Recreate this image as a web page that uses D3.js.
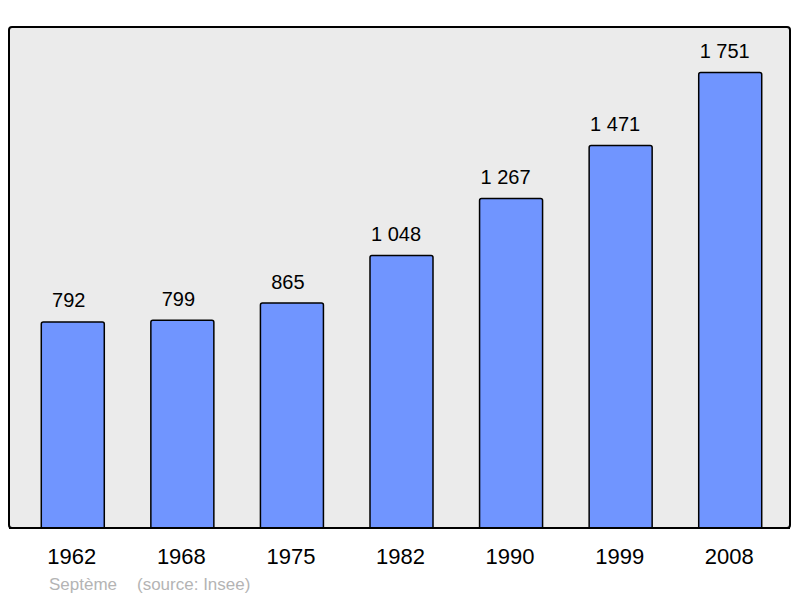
<!doctype html>
<html>
  <head>
    <meta charset="utf-8">
    <title>Septème population</title>
    <style>
      body { margin: 0; background: #fff; }
      text { font-family: "Liberation Sans", Arial, sans-serif; }
      .panel { fill: #ebebeb; stroke: #000; stroke-width: 2px; }
      .bar { fill: #7095ff; stroke: #000; stroke-width: 1.5px; }
    </style>
  </head>
  <body>
    <script src="https://d3js.org/d3.v7.min.js"></script>
    <script>
    var years = ["1962", "1968", "1975", "1982", "1990", "1999", "2008"];
    var population = [792, 799, 865, 1048, 1267, 1471, 1751];
    var footnote = ["Septème", "(source: Insee)"];

    var width = 800, height = 598;
    var panel = { left: 9, top: 27, right: 790, bottom: 528 };

    var fmt = d3.formatLocale({ decimal: ",", thousands: "\u00a0", grouping: [3], currency: ["", " €"] }).format(",d");

    var svg = d3.select("body").append("svg")
      .attr("width", width)
      .attr("height", height);

    svg.append("rect")
      .attr("class", "panel")
      .attr("x", panel.left)
      .attr("y", panel.top)
      .attr("width", panel.right - panel.left)
      .attr("height", panel.bottom - panel.top)
      .attr("rx", 3);

    var x = d3.scaleBand()
      .domain(years)
      .range([18, 785])
      .paddingInner(0.425)
      .paddingOuter(0.2125);

    var y = d3.scaleLinear()
      .domain([0, d3.max(population) * 1.1])
      .range([panel.bottom, panel.top]);

    var data = years.map(function(yr, i) { return { year: yr, value: population[i] }; });

    svg.selectAll(".bar")
      .data(data)
      .enter().append("rect")
      .attr("class", "bar")
      .attr("x", function(d) { return x(d.year); })
      .attr("y", function(d) { return y(d.value); })
      .attr("width", x.bandwidth())
      .attr("height", function(d) { return panel.bottom - y(d.value) + 4; })
      .attr("rx", 2);

    // redraw bottom edge of panel over the bars
    svg.append("line")
      .attr("x1", panel.left).attr("x2", panel.right)
      .attr("y1", panel.bottom).attr("y2", panel.bottom)
      .attr("stroke", "#000").attr("stroke-width", 2);

    svg.append("rect")
      .attr("x", 0).attr("y", panel.bottom + 1)
      .attr("width", width).attr("height", 10)
      .attr("fill", "#fff");

    // value labels sit a little left of the bar centre, as in the original
    svg.selectAll(".val")
      .data(data)
      .enter().append("text")
      .attr("class", "val")
      .attr("x", function(d) { return x(d.year) + x.bandwidth() / 2 - (d.value >= 1000 ? 5.5 : 4); })
      .attr("y", function(d) { return y(d.value) - 14.5; })
      .attr("text-anchor", "middle")
      .attr("font-size", 20)
      .attr("fill", "#000")
      .text(function(d) { return fmt(d.value); });

    var xAxis = d3.axisBottom(x).tickSize(0).tickPadding(0);
    var gx = svg.append("g")
      .attr("transform", "translate(-1," + (panel.bottom + 36) + ")")
      .call(xAxis);
    gx.select(".domain").remove();
    gx.selectAll("text")
      .attr("dy", 0)
      .attr("font-size", 22)
      .attr("font-family", "Liberation Sans, Arial, sans-serif")
      .attr("fill", "#000");

    svg.selectAll(".note")
      .data(footnote)
      .enter().append("text")
      .attr("class", "note")
      .attr("x", function(d, i) { return i === 0 ? 49 : 137; })
      .attr("y", 590)
      .attr("font-size", 17)
      .attr("fill", "#b4b4b4")
      .text(function(d) { return d; });
    </script>
  </body>
</html>
